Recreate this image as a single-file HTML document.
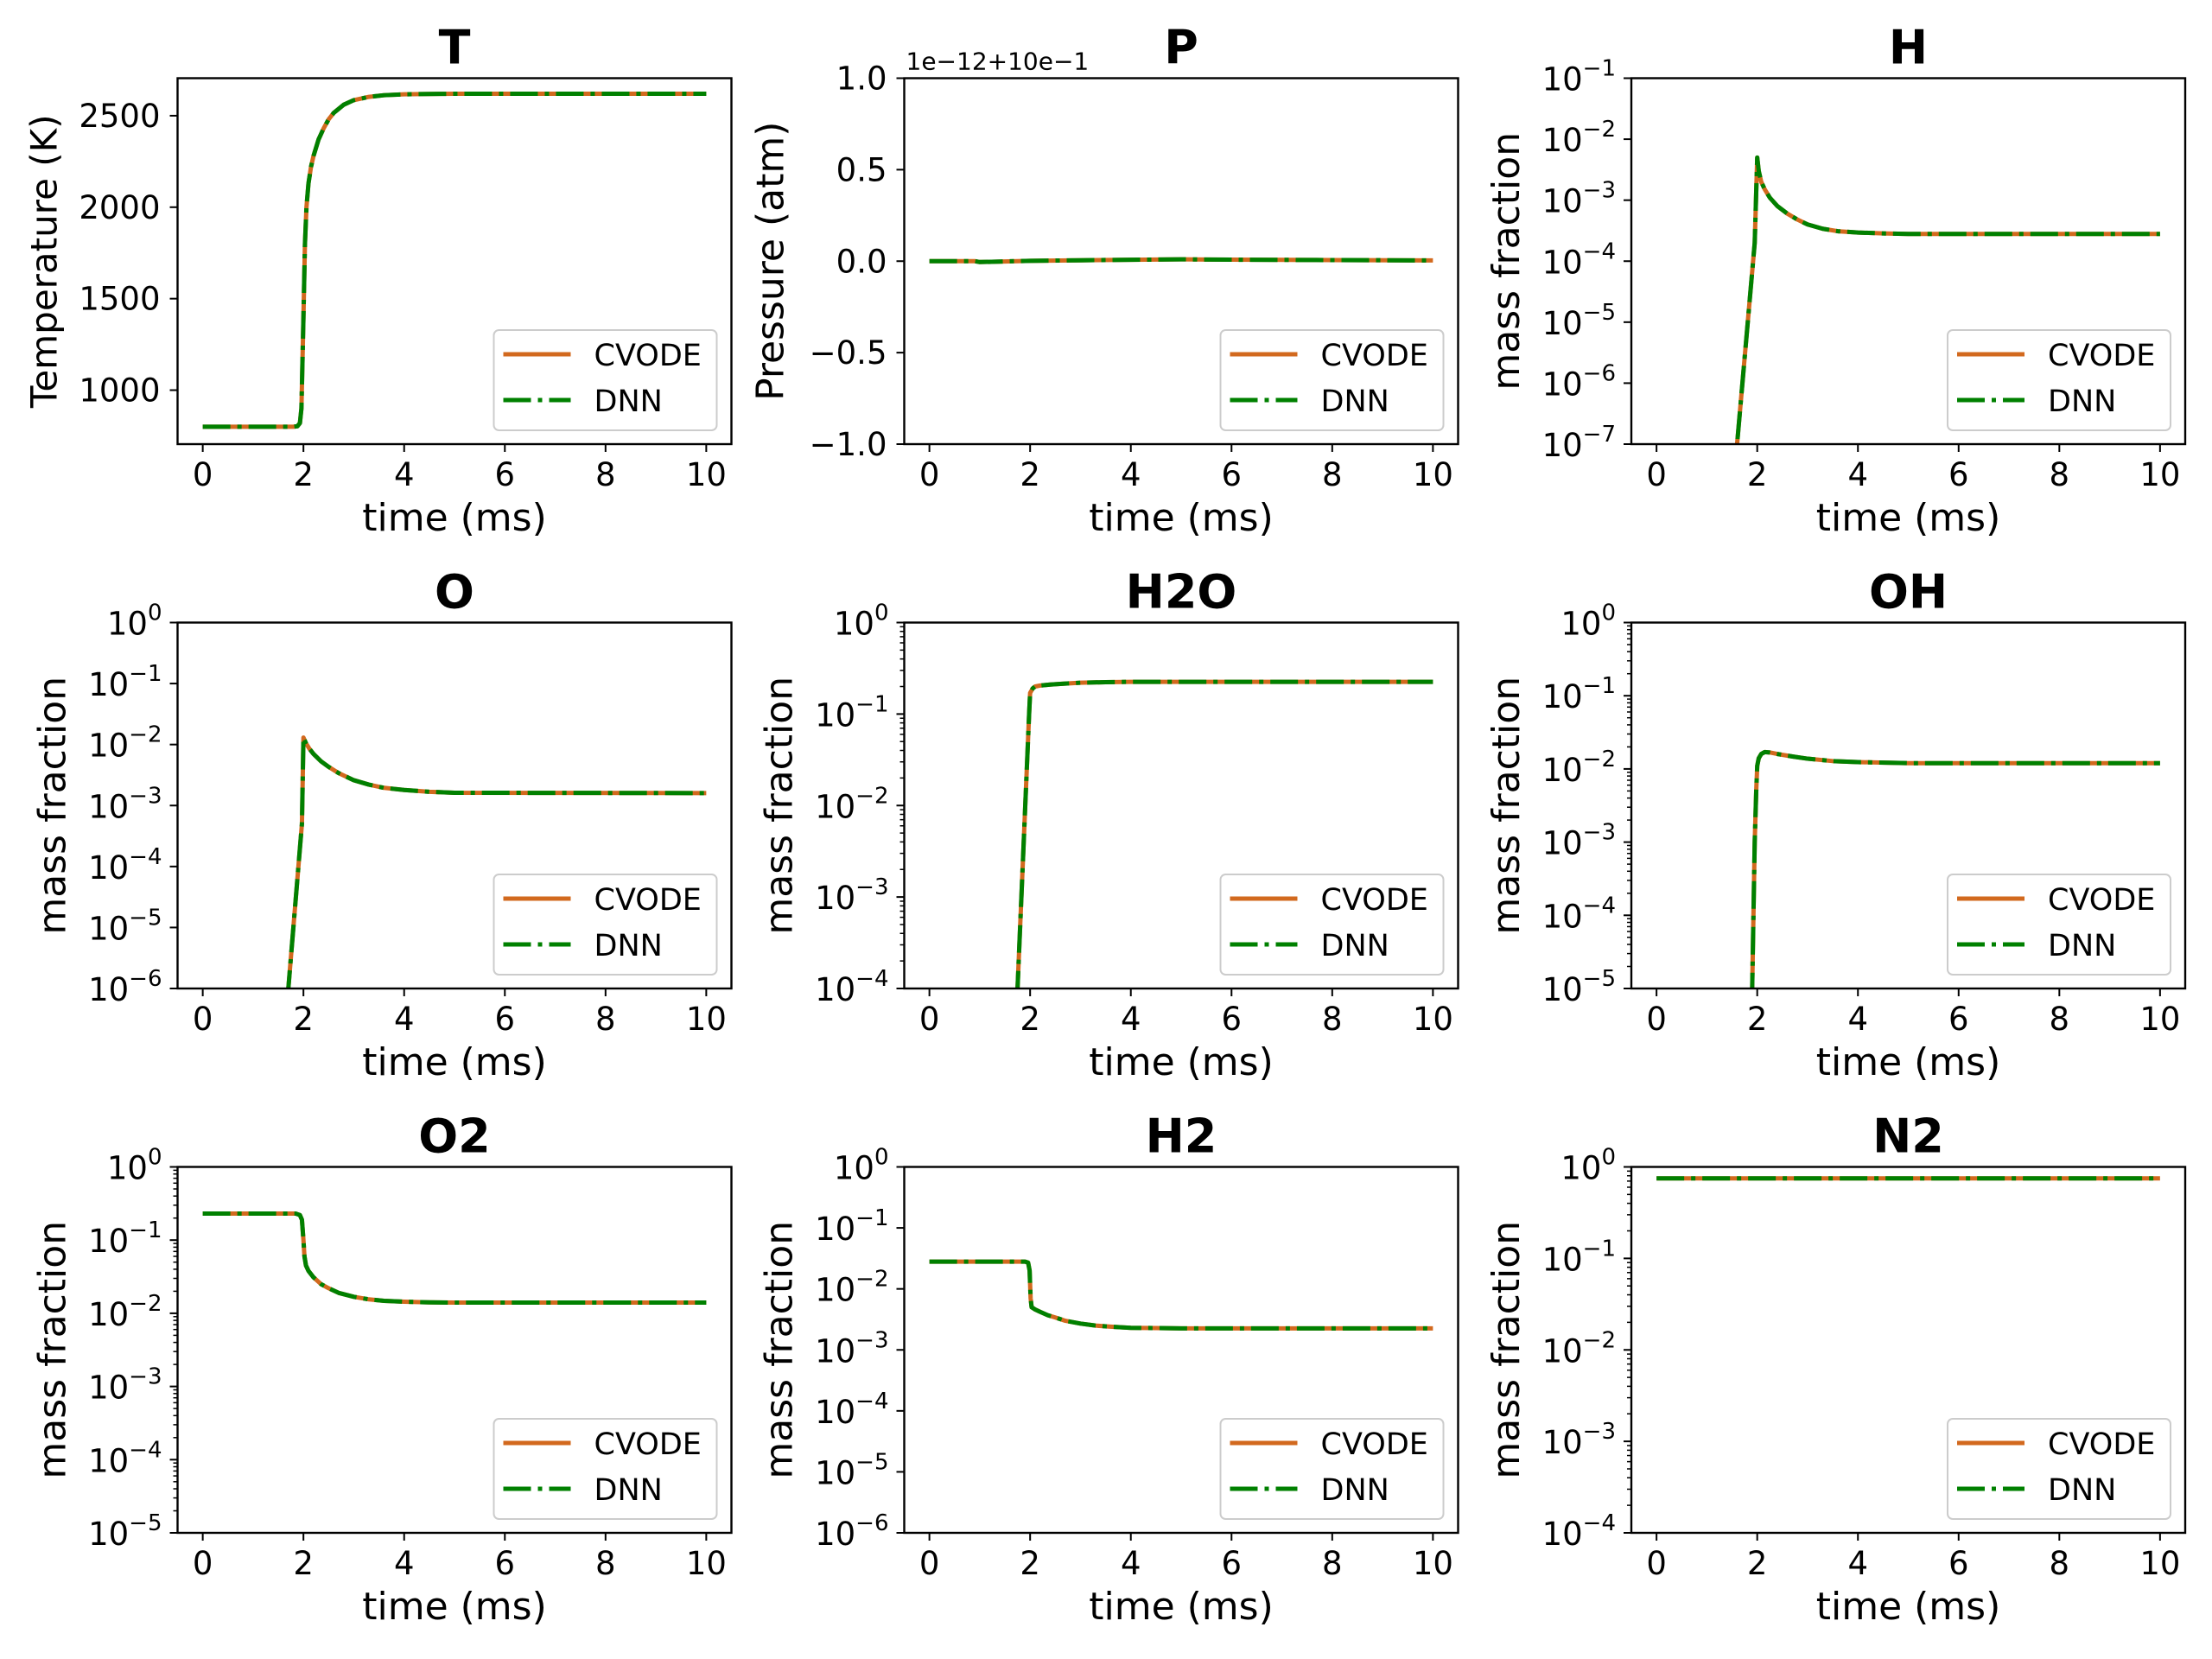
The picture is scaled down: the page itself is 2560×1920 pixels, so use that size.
<!DOCTYPE html>
<html><head><meta charset="utf-8">
<style>
html,body{margin:0;padding:0;background:#fff;}
svg{display:block;font-family:"DejaVu Sans","Liberation Sans",sans-serif;}
</style></head>
<body>
<svg id="fig" width="2560" height="1920" viewBox="0 0 2560 1920" xmlns="http://www.w3.org/2000/svg"></svg>
<script>
// ---- data arrays ----
const tT = [0, 1.8, 1.88, 1.93, 1.96, 2.0, 2.03, 2.06, 2.1, 2.15, 2.2, 2.3, 2.4, 2.5, 2.6, 2.8, 3.0, 3.3, 3.6, 4.0, 4.5, 5.0, 10];
const vT = [800, 800, 803, 820, 900, 1400, 1800, 2000, 2130, 2220, 2280, 2370, 2430, 2480, 2515, 2560, 2585, 2603, 2612, 2617, 2619, 2620, 2620];
const tP = [0, 0.9, 1.0, 2, 3, 5, 6, 8, 10];
const vP = [0, 0, -0.005, 0.002, 0.005, 0.01, 0.008, 0.006, 0.004];
const tH = [0, 1.6, 1.95, 2.0, 2.03, 2.08, 2.15, 2.25, 2.4, 2.6, 2.8, 3.0, 3.3, 3.6, 4.0, 4.5, 5.0, 10];
const vH = [1e-12, 1e-7, 2e-4, 5e-3, 3e-3, 2e-3, 1.5e-3, 1.1e-3, 8e-4, 6e-4, 4.8e-4, 4e-4, 3.4e-4, 3.1e-4, 2.95e-4, 2.85e-4, 2.8e-4, 2.8e-4];
const tO = [0, 1.7, 1.97, 2.0, 2.05, 2.12, 2.2, 2.35, 2.5, 2.7, 3.0, 3.3, 3.6, 4.0, 4.5, 5.0, 10];
const vO = [1e-12, 1e-6, 5e-4, 1.3e-2, 1.05e-2, 8.5e-3, 7e-3, 5.3e-3, 4.3e-3, 3.4e-3, 2.6e-3, 2.2e-3, 1.95e-3, 1.8e-3, 1.68e-3, 1.62e-3, 1.6e-3];
const tH2O = [0, 1.75, 1.98, 2.0, 2.05, 2.1, 2.2, 2.4, 2.7, 3.0, 3.5, 4.0, 10];
const vH2O = [1e-8, 1e-4, 1e-1, 0.17, 0.19, 0.2, 0.205, 0.21, 0.215, 0.22, 0.223, 0.225, 0.225];
const tOH = [0, 1.9, 1.95, 1.98, 2.0, 2.03, 2.08, 2.15, 2.25, 2.4, 2.7, 3.0, 3.5, 4.0, 5.0, 10];
const vOH = [1e-10, 1e-5, 1e-3, 5e-3, 1.1e-2, 1.4e-2, 1.6e-2, 1.7e-2, 1.68e-2, 1.6e-2, 1.48e-2, 1.38e-2, 1.28e-2, 1.24e-2, 1.2e-2, 1.2e-2];
const tO2 = [0, 1.85, 1.93, 1.97, 2.0, 2.02, 2.05, 2.1, 2.2, 2.35, 2.5, 2.7, 3.0, 3.3, 3.6, 4.0, 4.5, 5.0, 10];
const vO2 = [0.23, 0.23, 0.22, 0.19, 0.1, 0.06, 0.045, 0.038, 0.031, 0.025, 0.022, 0.019, 0.0168, 0.0155, 0.0148, 0.0144, 0.0141, 0.014, 0.014];
const tH2 = [0, 1.9, 1.96, 1.99, 2.01, 2.03, 2.1, 2.2, 2.35, 2.5, 2.7, 3.0, 3.3, 3.6, 4.0, 4.5, 5.0, 10];
const vH2 = [0.028, 0.028, 0.027, 0.02, 0.007, 0.005, 0.0046, 0.0042, 0.0037, 0.0034, 0.003, 0.0027, 0.0025, 0.0024, 0.0023, 0.00228, 0.00225, 0.00225];
const tN2 = [0, 10];
const vN2 = [0.75, 0.75];
const xTicks = [0, 2, 4, 6, 8, 10];
const tTicks = [1000, 1500, 2000, 2500];
const pTicks = [-1.0, -0.5, 0.0, 0.5, 1.0];
const pTickLabels = ["\u22121.0", "\u22120.5", "0.0", "0.5", "1.0"];
const seriesNames = ["CVODE", "DNN"];

const panels = [
  {name:"T", t:tT, v:vT, kind:"lin", ymin:705, ymax:2705, ticks:tTicks, labels:tTicks.map(String), ylabel:"Temperature (K)", col:0, row:0, lab:-140, fs:42},
  {name:"P", t:tP, v:vP, kind:"lin", ymin:-1, ymax:1, ticks:pTicks, labels:pTickLabels, ylabel:"Pressure (atm)", col:1, row:0, lab:-140},
  {name:"H", t:tH, v:vH, kind:"log", ymin:-7, ymax:-1, col:2, row:0},
  {name:"O", t:tO, v:vO, kind:"log", ymin:-6, ymax:0, col:0, row:1},
  {name:"H2O", t:tH2O, v:vH2O, kind:"log", ymin:-4, ymax:0, col:1, row:1},
  {name:"OH", t:tOH, v:vOH, kind:"log", ymin:-5, ymax:0, col:2, row:1},
  {name:"O2", t:tO2, v:vO2, kind:"log", ymin:-5, ymax:0, col:0, row:2},
  {name:"H2", t:tH2, v:vH2, kind:"log", ymin:-6, ymax:0, col:1, row:2},
  {name:"N2", t:tN2, v:vN2, kind:"log", ymin:-4, ymax:0, col:2, row:2}
];

const NS = "http://www.w3.org/2000/svg";
const fig = document.getElementById("fig");
const colL = [205.5, 1046.5, 1888], rowT = [90.5, 720.5, 1350.5];
const W = 641, H = 423.5;
function mk(tag, attrs, parent){ const e=document.createElementNS(NS,tag); for(const k in attrs) e.setAttribute(k,attrs[k]); (parent||fig).appendChild(e); return e; }
const defs = mk("defs",{});

panels.forEach((p, i) => {
  const L = colL[p.col], T = rowT[p.row];
  const g = mk("g", {});
  
  
  const xs = t => L + (t + 0.5) / 11 * W;
  const ys = v => {
    if (p.kind === "log") { const lv = Math.log10(Math.max(v,1e-30)); return T + H - (lv - p.ymin)/(p.ymax - p.ymin) * H; }
    return T + H - (v - p.ymin)/(p.ymax - p.ymin) * H;
  };
  const cp = mk("clipPath", {id:"clip"+i}, defs);
  mk("rect", {x:L, y:T, width:W, height:H}, cp);
  const pts = p.t.map((t,k) => xs(t).toFixed(2) + "," + ys(p.v[k]).toFixed(2)).join(" ");
  const lc = mk("polyline", {points:pts, fill:"none", stroke:"#d2691e", "stroke-width":5, "clip-path":"url(#clip"+i+")", "stroke-linejoin":"round"}, g);
  
  
  const ld = mk("polyline", {points:pts, fill:"none", stroke:"#008000", "stroke-width":5, "stroke-dasharray":"32,8,5,8", "clip-path":"url(#clip"+i+")", "stroke-linejoin":"round"}, g);
  
  
  const fr = mk("rect", {x:L, y:T, width:W, height:H, fill:"none", stroke:"#000", "stroke-width":2.4}, g);
  
  
  xTicks.forEach(t => {
    const x = xs(t);
    mk("line", {x1:x, y1:T+H, x2:x, y2:T+H+9, stroke:"#000", "stroke-width":2}, g);
    const tx = mk("text", {x:x, y:T+H+48, "font-size":37, "text-anchor":"middle"}, g);
    tx.textContent = String(t);
    
    
  });
  const xl = mk("text", {x:L+W/2, y:T+H+100, "font-size":44, "text-anchor":"middle"}, g);
  xl.textContent = "time (ms)";
  
  
  if (p.kind === "lin") {
    p.ticks.forEach((v,k) => {
      const y = ys(v);
      mk("line", {x1:L-9, y1:y, x2:L, y2:y, stroke:"#000", "stroke-width":2}, g);
      const ty = mk("text", {x:L-20, y:y+13, "font-size":37, "text-anchor":"end"}, g);
      ty.textContent = p.labels[k];
      
      
    });
  } else {
    const nd = p.ymax - p.ymin;
    for (let e = p.ymin; e <= p.ymax; e++) {
      const y = ys(Math.pow(10,e));
      mk("line", {x1:L-9, y1:y, x2:L, y2:y, stroke:"#000", "stroke-width":2}, g);
      const ty = mk("text", {x:L-18, y:y+14, "font-size":37, "text-anchor":"end"}, g);
      
      
      const a = mk("tspan", {}, ty); a.textContent = "10";
      const b = mk("tspan", {dy:-17, "font-size":26}, ty); b.textContent = e === 0 ? "0" : "\u2212" + Math.abs(e);
      if (nd <= 5 && e < p.ymax) {
        for (let m = 2; m <= 9; m++) {
          const ym = ys(m*Math.pow(10,e));
          mk("line", {x1:L-5, y1:ym, x2:L, y2:ym, stroke:"#000", "stroke-width":1.5}, g);
        }
      }
    }
  }
  const yl = mk("text", {transform:"translate("+(L+(p.lab||-130))+","+(T+H/2)+") rotate(-90)", "font-size":(p.fs||44), "text-anchor":"middle"}, g);
  yl.textContent = p.ylabel || "mass fraction";
  
  
  const ti = mk("text", {x:L+W/2, y:T-17, "font-size":54, "font-weight":"bold", "text-anchor":"middle"}, g);
  ti.textContent = p.name;
  
  
  if (p.name === "P") {
    const off = mk("text", {x:L+2, y:T-10, "font-size":28}, g);
    off.textContent = "1e\u221212+10e\u22121";
    
    
  }
  const lgx = L + W - 17 - 258, lgy = T + H - 16 - 116;
  const lg = mk("g", {}, g);
  
  
  mk("rect", {x:lgx, y:lgy, width:258, height:116, rx:6, fill:"#fff", "fill-opacity":0.8, stroke:"#ccc", "stroke-width":2}, lg);
  seriesNames.forEach((s,k) => {
    const yy = lgy + 28 + k*53;
    const hl = mk("line", {x1:lgx+11, y1:yy, x2:lgx+89, y2:yy, stroke:k?"#008000":"#d2691e", "stroke-width":5, "stroke-dasharray":k?"32,8,5,8":"none"}, lg);
    
    
    const lt = mk("text", {x:lgx+116, y:yy+13, "font-size":35}, lg);
    lt.textContent = s;
    
    
  });
});
</script>
</body></html>
